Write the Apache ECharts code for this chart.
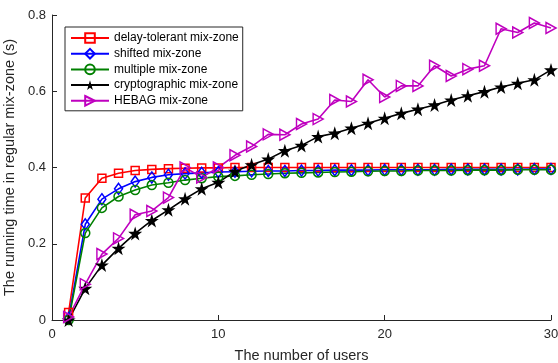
<!DOCTYPE html>
<html>
<head>
<meta charset="utf-8">
<script src="https://cdn.jsdelivr.net/npm/echarts@6/dist/echarts.min.js"></script>
<style>
  html, body { margin: 0; padding: 0; background: #fff; }
  #main { width: 558px; height: 363px; }
</style>
</head>
<body>
<div id="main"></div>
<script>
var users = [];
for (var u = 1; u <= 30; u++) users.push(u);

var seriesNames = ['delay-tolerant mix-zone', 'shifted mix-zone', 'multiple mix-zone', 'cryptographic mix-zone', 'HEBAG mix-zone'];

var delayTolerant = [0.02, 0.32, 0.372, 0.385, 0.392, 0.395, 0.397, 0.398, 0.399, 0.399,
  0.4, 0.4, 0.4, 0.4, 0.4, 0.4, 0.4, 0.4, 0.4, 0.4,
  0.4, 0.4, 0.4, 0.4, 0.4, 0.4, 0.4, 0.4, 0.4, 0.4];
var shifted = [0.005, 0.251, 0.317, 0.344, 0.363, 0.374, 0.381, 0.384, 0.386, 0.388,
  0.389, 0.390, 0.391, 0.391, 0.392, 0.392, 0.393, 0.393, 0.393, 0.394,
  0.394, 0.394, 0.394, 0.395, 0.395, 0.395, 0.395, 0.395, 0.396, 0.396];
var multiple = [0, 0.228, 0.294, 0.324, 0.341, 0.354, 0.360, 0.367, 0.372, 0.376,
  0.378, 0.381, 0.383, 0.385, 0.386, 0.387, 0.388, 0.389, 0.390, 0.391,
  0.391, 0.392, 0.392, 0.392, 0.393, 0.393, 0.393, 0.394, 0.394, 0.394];
var cryptographic = [0, 0.083, 0.144, 0.188, 0.227, 0.261, 0.289, 0.318, 0.344, 0.361,
  0.390, 0.407, 0.422, 0.444, 0.458, 0.481, 0.490, 0.503, 0.516, 0.529,
  0.542, 0.553, 0.564, 0.577, 0.588, 0.599, 0.611, 0.621, 0.630, 0.656];
var hebag = [0.008, 0.094, 0.173, 0.214, 0.276, 0.286, 0.321, 0.400, 0.374, 0.400,
  0.432, 0.455, 0.487, 0.486, 0.514, 0.527, 0.577, 0.573, 0.630, 0.585,
  0.614, 0.614, 0.667, 0.640, 0.658, 0.667, 0.764, 0.754, 0.779, 0.766];

var colors = ['#ff0000', '#0000ff', '#008000', '#000000', '#bf00bf'];
var symbols = [
  'rect',
  'diamond',
  'circle',
  'path://M50,0 L61,35 L98,35 L68,57 L79,91 L50,70 L21,91 L32,57 L2,35 L39,35 Z',
  'path://M0,0 L10,5 L0,10 Z'
];
var sizes = [8, [8, 11], 9, 14, [10, 11]];
var allData = [delayTolerant, shifted, multiple, cryptographic, hebag];

function pairs(arr) {
  return arr.map(function (v, i) { return [users[i], v]; });
}

var series = [];
for (var i = 0; i < 5; i++) {
  var filled = i === 3;
  series.push({
    name: seriesNames[i],
    type: 'line',
    data: pairs(allData[i]),
    symbol: symbols[i],
    symbolSize: sizes[i],
    showAllSymbol: true,
    animation: false,
    lineStyle: { color: colors[i], width: 1.6 },
    itemStyle: {
      color: filled ? colors[i] : 'rgba(255,255,255,0)',
      borderColor: colors[i],
      borderWidth: filled ? 0 : 1.5
    },
    emphasis: { disabled: true }
  });
}

var axisColor = '#262626';
var font = 'Liberation Sans, Arial, Helvetica, sans-serif';

var myChart = echarts.init(document.getElementById('main'));
var option = {
  backgroundColor: '#fff',
  animation: false,
  grid: { left: 52, right: 7, top: 15, bottom: 43, containLabel: false, outerBoundsMode: 'none' },
  legend: {
    orient: 'vertical',
    left: 65,
    top: 27,
    padding: [5, 4, 4, 5],
    itemWidth: 38,
    itemHeight: 12,
    itemGap: 3.7,
    backgroundColor: '#fff',
    borderColor: axisColor,
    borderWidth: 1,
    borderRadius: 0,
    textStyle: { fontFamily: font, fontSize: 12, color: '#000' },
    data: seriesNames
  },
  xAxis: {
    type: 'value',
    min: 0,
    max: 30,
    interval: 10,
    name: 'The number of users',
    nameLocation: 'middle',
    nameGap: 28,
    nameTextStyle: { fontFamily: font, fontSize: 14.5, color: axisColor },
    axisLine: { lineStyle: { color: axisColor, width: 1 } },
    axisTick: { inside: true, length: 5, lineStyle: { color: axisColor } },
    axisLabel: { fontFamily: font, fontSize: 13, color: axisColor, margin: 8 },
    splitLine: { show: false }
  },
  yAxis: {
    type: 'value',
    min: 0,
    max: 0.8,
    interval: 0.2,
    name: 'The running time in regular mix-zone (s)',
    nameLocation: 'middle',
    nameGap: 31,
    nameTextStyle: { fontFamily: font, fontSize: 14.5, color: axisColor },
    axisLine: { show: true, lineStyle: { color: axisColor, width: 1 } },
    axisTick: { show: true, inside: true, length: 5, lineStyle: { color: axisColor } },
    axisLabel: {
      fontFamily: font, fontSize: 13, color: axisColor, margin: 6,
      formatter: function (v) { return v === 0 ? '0' : v.toFixed(1); }
    },
    splitLine: { show: false }
  },
  series: series
};
myChart.setOption(option);
</script>
</body>
</html>
